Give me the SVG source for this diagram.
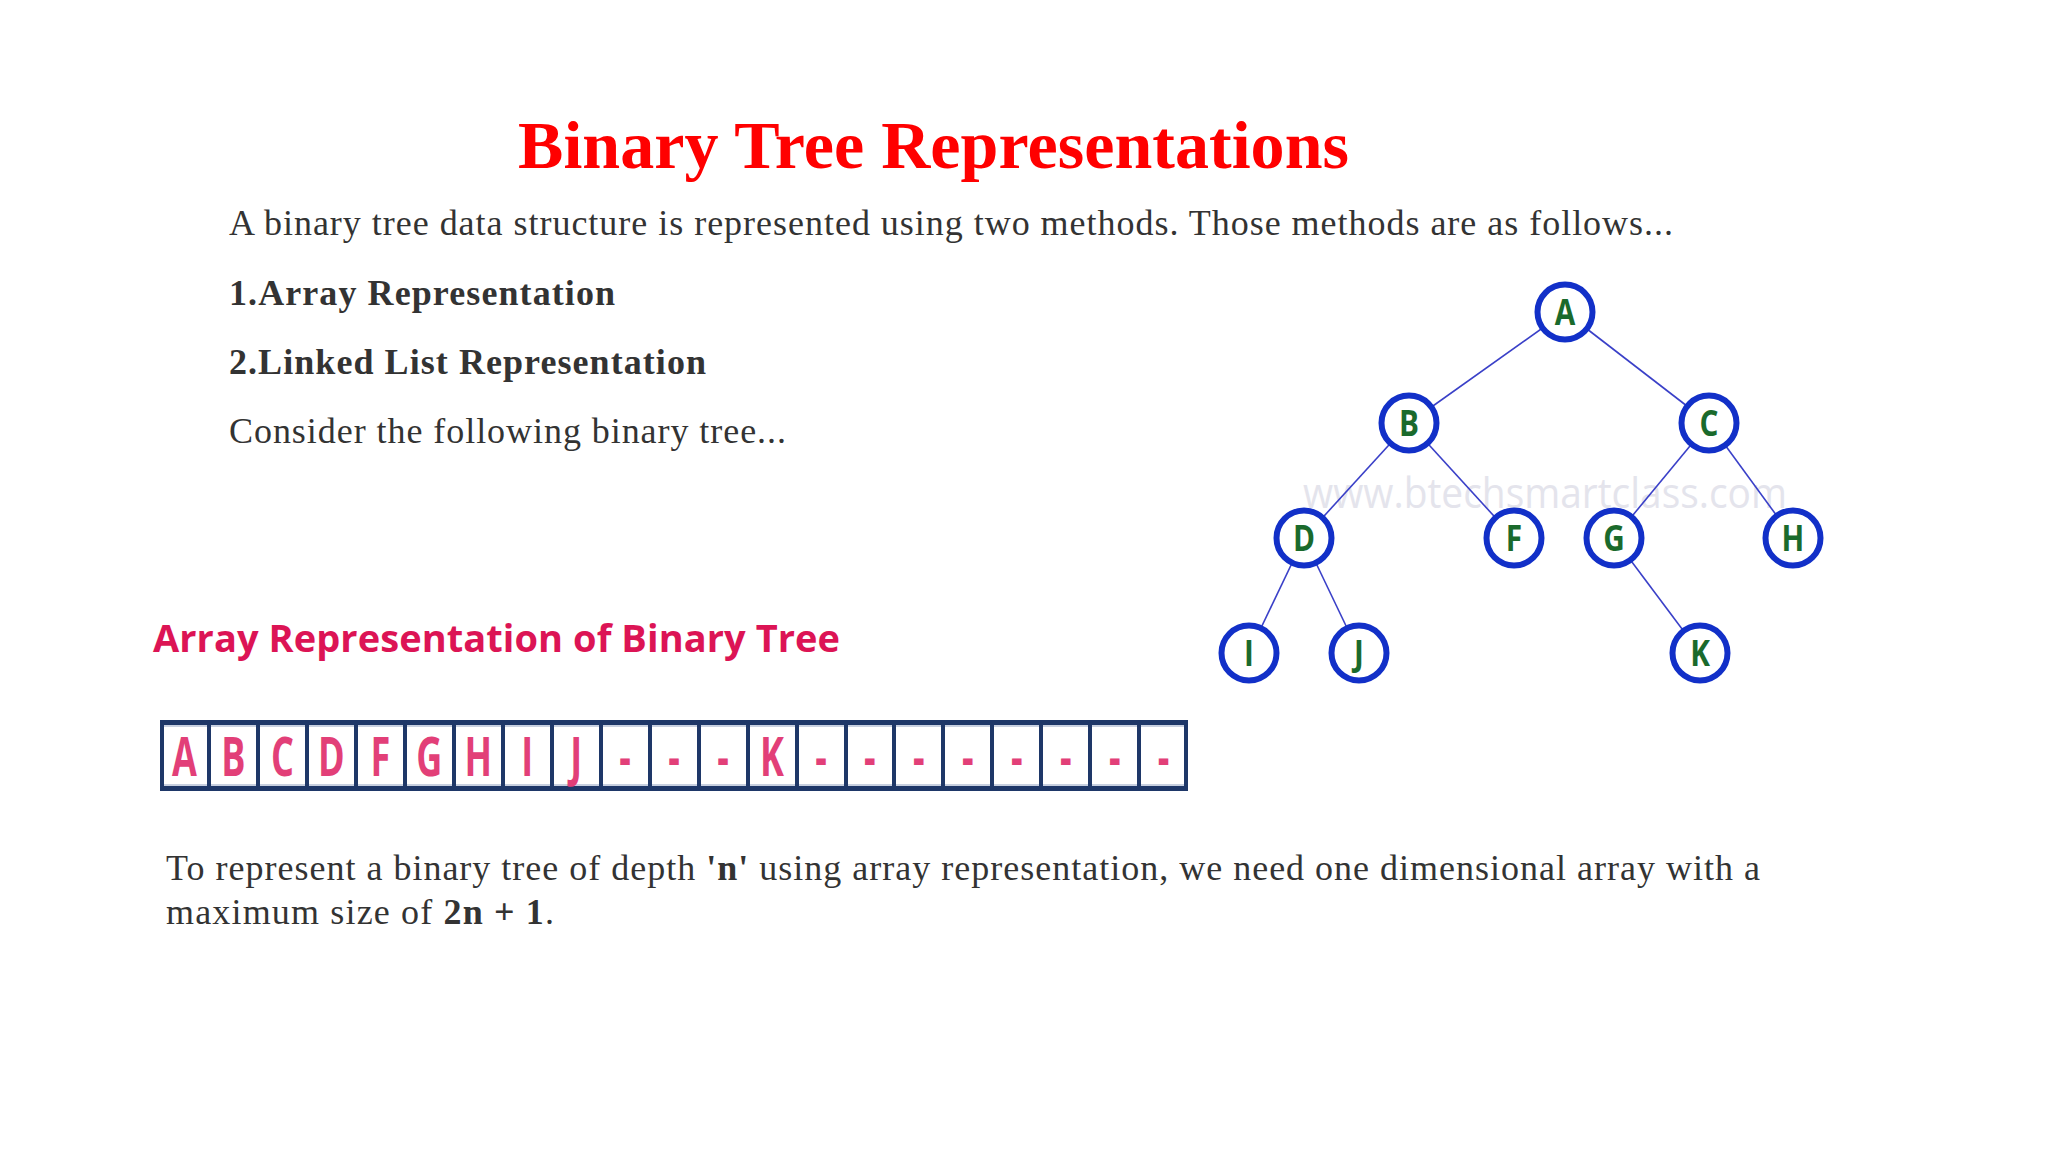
<svg xmlns="http://www.w3.org/2000/svg" width="2048" height="1152" viewBox="0 0 2048 1152">
<style>
.serif{font-family:"Liberation Serif","Times New Roman",serif;fill:#333333}
.b{font-weight:bold}
.title{font-family:"Liberation Serif","Times New Roman",serif;font-weight:bold;fill:#ff0000;font-size:68px}
.head{font-family:"Open Sans","Noto Sans",sans-serif;font-weight:bold;fill:#dc1455;font-size:38px}
.node circle{fill:#ffffff;stroke:#1230c8;stroke-width:6}
.node text{font-family:"Open Sans","Noto Sans",sans-serif;font-weight:bold;font-size:35px;fill:#1a6a2c;text-anchor:middle}
.edge{stroke:#3a40c8;stroke-width:1.6}
.cell{font-family:"Open Sans","Noto Sans",sans-serif;font-weight:bold;font-size:53px;fill:#e23f78;text-anchor:middle}
.sep{fill:#1e3768}
</style>
<rect width="2048" height="1152" fill="#ffffff"/>

<text class="title" x="518" y="168" textLength="831">Binary Tree Representations</text>
<text class="serif" x="229" y="235" font-size="36" textLength="1444">A binary tree data structure is represented using two methods. Those methods are as follows...</text>
<text class="serif b" x="229" y="305" font-size="36" textLength="386">1.Array Representation</text>
<text class="serif b" x="229" y="374" font-size="36" textLength="477">2.Linked List Representation</text>
<text class="serif" x="229" y="443" font-size="36" textLength="557">Consider the following binary tree...</text>

<text x="1303" y="508" font-family="Open Sans, Noto Sans, sans-serif" font-size="42" fill="#e4e4ec" textLength="484" lengthAdjust="spacingAndGlyphs">www.btechsmartclass.com</text>

<g id="connectors">
<line class="edge" x1="1565" y1="312" x2="1409" y2="423"/>
<line class="edge" x1="1565" y1="312" x2="1709" y2="423"/>
<line class="edge" x1="1409" y1="423" x2="1304" y2="538"/>
<line class="edge" x1="1409" y1="423" x2="1514" y2="538"/>
<line class="edge" x1="1709" y1="423" x2="1614" y2="538"/>
<line class="edge" x1="1709" y1="423" x2="1793" y2="538"/>
<line class="edge" x1="1304" y1="538" x2="1249" y2="653"/>
<line class="edge" x1="1304" y1="538" x2="1359" y2="653"/>
<line class="edge" x1="1614" y1="538" x2="1700" y2="653"/>
</g>

<g id="node-A" class="node"><circle cx="1565" cy="312" r="27.5"/><text transform="translate(1565,324.5) scale(0.85,1)">A</text></g>
<g id="node-B" class="node"><circle cx="1409" cy="423" r="27.5"/><text transform="translate(1409,435.5) scale(0.85,1)">B</text></g>
<g id="node-C" class="node"><circle cx="1709" cy="423" r="27.5"/><text transform="translate(1709,435.5) scale(0.85,1)">C</text></g>
<g id="node-D" class="node"><circle cx="1304" cy="538" r="27.5"/><text transform="translate(1304,550.5) scale(0.85,1)">D</text></g>
<g id="node-F" class="node"><circle cx="1514" cy="538" r="27.5"/><text transform="translate(1514,550.5) scale(0.85,1)">F</text></g>
<g id="node-G" class="node"><circle cx="1614" cy="538" r="27.5"/><text transform="translate(1614,550.5) scale(0.85,1)">G</text></g>
<g id="node-H" class="node"><circle cx="1793" cy="538" r="27.5"/><text transform="translate(1793,550.5) scale(0.85,1)">H</text></g>
<g id="node-I" class="node"><circle cx="1249" cy="653" r="27.5"/><text transform="translate(1249,665.5) scale(0.85,1)">I</text></g>
<g id="node-J" class="node"><circle cx="1359" cy="653" r="27.5"/><text transform="translate(1359,665.5) scale(0.85,1)">J</text></g>
<g id="node-K" class="node"><circle cx="1700" cy="653" r="27.5"/><text transform="translate(1700,665.5) scale(0.85,1)">K</text></g>

<text class="head" x="153" y="652" textLength="687">Array Representation of Binary Tree</text>

<g id="array">
<rect x="160" y="720" width="1028" height="71" fill="#ffffff"/>
<rect x="164" y="725" width="1020" height="2" fill="#c8d0e0"/>
<rect x="164" y="784" width="1020" height="2" fill="#c8d0e0"/>
<rect class="sep" x="160" y="720" width="1028" height="5"/>
<rect class="sep" x="160" y="786" width="1028" height="5"/>
<g class="sep">
<rect x="160" y="720" width="4" height="71"/>
<rect x="207" y="720" width="4" height="71"/>
<rect x="256" y="720" width="4" height="71"/>
<rect x="305" y="720" width="4" height="71"/>
<rect x="354" y="720" width="4" height="71"/>
<rect x="403" y="720" width="4" height="71"/>
<rect x="452" y="720" width="4" height="71"/>
<rect x="501" y="720" width="4" height="71"/>
<rect x="550" y="720" width="4" height="71"/>
<rect x="599" y="720" width="4" height="71"/>
<rect x="648" y="720" width="4" height="71"/>
<rect x="697" y="720" width="4" height="71"/>
<rect x="746" y="720" width="4" height="71"/>
<rect x="795" y="720" width="4" height="71"/>
<rect x="844" y="720" width="4" height="71"/>
<rect x="892" y="720" width="4" height="71"/>
<rect x="941" y="720" width="4" height="71"/>
<rect x="990" y="720" width="4" height="71"/>
<rect x="1039" y="720" width="4" height="71"/>
<rect x="1088" y="720" width="4" height="71"/>
<rect x="1137" y="720" width="4" height="71"/>
<rect x="1184" y="720" width="4" height="71"/>
</g>
<g transform="scale(0.68,1)">
<text class="cell" x="271.3" y="776">A</text>
<text class="cell" x="343.3" y="776">B</text>
<text class="cell" x="415.3" y="776">C</text>
<text class="cell" x="487.3" y="776">D</text>
<text class="cell" x="559.3" y="776">F</text>
<text class="cell" x="631.3" y="776">G</text>
<text class="cell" x="703.3" y="776">H</text>
<text class="cell" x="775.3" y="776">I</text>
<text class="cell" x="847.3" y="776">J</text>
<text class="cell" x="919.3" y="776">-</text>
<text class="cell" x="991.3" y="776">-</text>
<text class="cell" x="1063.3" y="776">-</text>
<text class="cell" x="1135.3" y="776">K</text>
<text class="cell" x="1207.3" y="776">-</text>
<text class="cell" x="1279.3" y="776">-</text>
<text class="cell" x="1351.3" y="776">-</text>
<text class="cell" x="1423.3" y="776">-</text>
<text class="cell" x="1495.3" y="776">-</text>
<text class="cell" x="1567.3" y="776">-</text>
<text class="cell" x="1639.3" y="776">-</text>
<text class="cell" x="1711.3" y="776">-</text>
</g>
</g>

<text class="serif" x="166" y="880" font-size="36" textLength="1594">To represent a binary tree of depth <tspan font-weight="bold">'n'</tspan> using array representation, we need one dimensional array with a</text>
<text class="serif" x="166" y="924" font-size="36" textLength="388">maximum size of <tspan font-weight="bold">2n + 1</tspan>.</text>
</svg>
